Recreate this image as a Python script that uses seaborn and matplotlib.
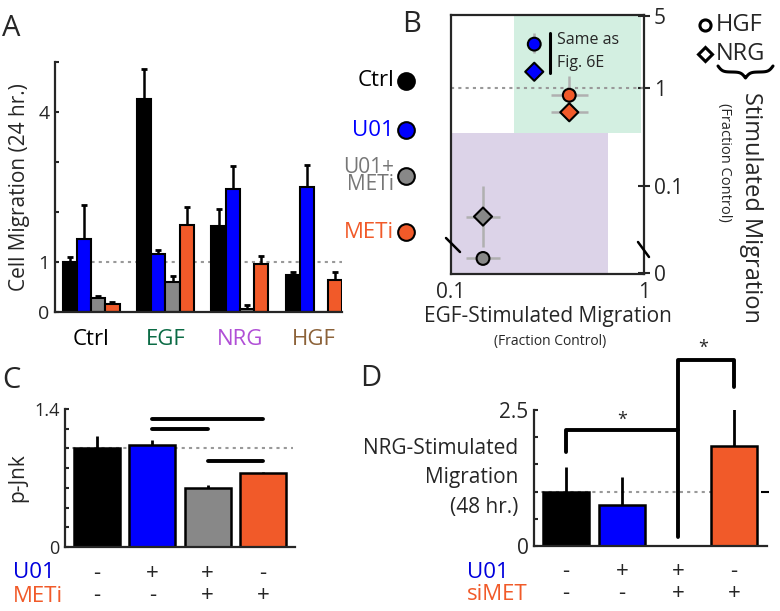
import matplotlib
matplotlib.use("Agg")
import matplotlib.pyplot as plt
import seaborn as sns
import numpy as np
import pandas as pd

# ---- panel A: cell migration (24 hr.)
groups_a = ["Ctrl", "EGF", "NRG", "HGF"]
group_colors = ["#000000", "#0b6b45", "#b04fd6", "#8c6239"]
treatments = ["Ctrl", "U01", "U01+METi", "METi"]
treat_colors = ["#000000", "#0000ff", "#888888", "#f15a29"]
mig_ctrl = [1.0, 4.27, 1.72, 0.75]
mig_u01 = [1.46, 1.16, 2.47, 2.5]
mig_u01meti = [0.29, 0.61, 0.07, 0.0]
mig_meti = [0.17, 1.74, 0.97, 0.64]
err_ctrl = [0.11, 0.6, 0.35, 0.06]
err_u01 = [0.68, 0.08, 0.45, 0.45]
err_u01meti = [0.04, 0.11, 0.08, 0.0]
err_meti = [0.03, 0.36, 0.16, 0.17]

# ---- panel B: EGF- vs HGF/NRG-stimulated migration
b_factor = ["HGF", "NRG", "HGF", "NRG", "HGF", "NRG"]
b_treat = ["METi", "METi", "U01+METi", "U01+METi", "U01", "U01"]
b_egf = [0.41, 0.41, 0.1465, 0.1465, 0.27, 0.27]
b_egf_lo = [0.33, 0.33, 0.119, 0.119, 0.27, 0.27]
b_egf_hi = [0.51, 0.51, 0.18, 0.18, 0.27, 0.27]
b_stim = [0.854, 0.58, 0.0063, 0.042, 2.69, 1.45]
b_stim_lo = [0.62, 0.53, 0.0045, 0.0128, 2.2, 1.38]
b_stim_hi = [1.31, 0.64, 0.008, 0.1, 3.42, 1.52]

# ---- panel C: p-Jnk
c_labels = ["Ctrl", "U01", "U01+METi", "METi"]
pjnk = [1.0, 1.03, 0.6, 0.75]
pjnk_err = [0.13, 0.06, 0.03, 0.01]
c_u01 = ["-", "+", "+", "-"]
c_meti = ["-", "-", "+", "+"]
c_sig = [(1, 3, 1.3), (1, 2, 1.2), (2, 3, 0.87)]

# ---- panel D: NRG-stimulated migration (48 hr.)
d_labels = ["Ctrl", "U01", "U01+siMET", "siMET"]
d_mig = [1.0, 0.75, 0.0, 1.84]
d_err = [0.46, 0.52, 0.0, 0.76]
d_u01 = ["-", "+", "+", "-"]
d_simet = ["-", "-", "+", "+"]

sns.set_style("ticks")
plt.rcParams["font.family"] = ["Open Sans", "DejaVu Sans"]
plt.rcParams["axes.linewidth"] = 1.6

W, H = 780, 611
fig = plt.figure(figsize=(7.8, 6.11), dpi=100)


def px_axes(l, r, t, b):
    return fig.add_axes([l / W, 1 - b / H, (r - l) / W, (b - t) / H])


# overlay in pixel coords for loose labels
ov = fig.add_axes([0, 0, 1, 1], zorder=10)
ov.set_xlim(0, W)
ov.set_ylim(H, 0)
ov.axis("off")


def curly_brace(ax, x0, x1, y, h, beta=0.45, **kw):
    # horizontal curly brace opening upward, tip pointing down
    mid = (x0 + x1) / 2
    xl = np.linspace(x0, mid, 60)
    yl = 1 / (1 + np.exp(-beta * (xl - x0))) + 1 / (1 + np.exp(-beta * (xl - mid)))
    yl = (yl - yl.min()) / (yl.max() - yl.min())
    xs = np.concatenate([xl, 2 * mid - xl[::-1]])
    ys = np.concatenate([yl, yl[::-1]])
    ax.plot(xs, y + h * ys, **kw)


# ================= A =================
axA = px_axes(55, 342, 62, 312)
df_a = pd.DataFrame({
    "group": groups_a * 4,
    "treatment": np.repeat(treatments, 4),
    "value": mig_ctrl + mig_u01 + mig_u01meti + mig_meti,
})
errs_a = [err_ctrl, err_u01, err_u01meti, err_meti]
axA.axhline(1, color="#999999", ls=(0, (1.5, 2)), lw=1.5, zorder=0)
sns.barplot(data=df_a, x="group", y="value", hue="treatment", hue_order=treatments,
            palette=treat_colors, saturation=1, width=0.76, edgecolor="black", linewidth=1.5,
            errorbar=None, legend=False, ax=axA, zorder=2)
for cont, errs in zip(axA.containers, errs_a):
    for p, e in zip(cont.patches, errs):
        if e > 0:
            xc = p.get_x() + p.get_width() / 2
            axA.errorbar(xc, p.get_height(), yerr=[[0], [e]], color="black",
                         lw=1.8, capsize=2, capthick=2, zorder=1)
axA.set_xlim(-0.49, 3.38)
axA.set_ylim(0, 5)
axA.set_yticks([0, 1, 2, 3, 4, 5])
axA.set_yticklabels(["0", "1", "", "", "4", ""], fontsize=14)
axA.tick_params(axis="y", direction="in", length=3, width=1.5, pad=4)
axA.tick_params(axis="x", length=0, pad=12)
axA.set_xticks(range(4))
axA.set_xticklabels(groups_a, fontsize=16)
for lab, c in zip(axA.get_xticklabels(), group_colors):
    lab.set_color(c)
axA.set_xlabel("")
axA.set_ylabel("Cell Migration (24 hr.)", fontsize=15, labelpad=6)
sns.despine(ax=axA)

# legend of treatments between A and B
leg_y = [81, 130, 176, 232]
leg_txt = ["Ctrl", "U01", "U01+\nMETi", "METi"]
leg_fs = [16, 16, 15, 16]
for y, t, c, fs in zip(leg_y, leg_txt, treat_colors, leg_fs):
    ov.text(394, y, t, color=c if c != "#888888" else "#777777", fontsize=fs,
            ha="right", va="center", linespacing=0.8)
    ov.plot(406, y, "o", ms=12, mfc=c, mec="black", mew=1.5)

# ================= B =================
axB = px_axes(451, 644, 15, 274)
c_off = 0.017
axB.set_xscale("log")
axB.set_yscale("function", functions=(lambda v: np.log10(np.clip(v + c_off, 1e-9, None)),
                                      lambda t: 10 ** t - c_off))
axB.set_xlim(0.1, 1)
axB.set_ylim(-0.0005, 5.15)
axB.axvspan(0.212, 0.96, ymin=0.545, ymax=1, color="#d3efe1", lw=0, zorder=0)
axB.axvspan(0.1, 0.65, ymin=0, ymax=0.545, color="#dcd3e8", lw=0, zorder=0)
axB.axhline(1, color="#999999", ls=(0, (1.5, 2)), lw=1.5, zorder=1)
df_b = pd.DataFrame({"egf": b_egf, "stim": b_stim, "factor": b_factor, "treat": b_treat})
x_err = [np.array(b_egf) - np.array(b_egf_lo), np.array(b_egf_hi) - np.array(b_egf)]
y_err = [np.array(b_stim) - np.array(b_stim_lo), np.array(b_stim_hi) - np.array(b_stim)]
axB.errorbar(b_egf, b_stim, xerr=x_err, yerr=y_err, fmt="none", ecolor="#b0b0b0",
             elinewidth=1.8, zorder=2)
sns.scatterplot(data=df_b, x="egf", y="stim", hue="treat", style="factor",
                palette=dict(zip(treatments, treat_colors)),
                markers={"HGF": "o", "NRG": "D"}, s=85, edgecolor="black",
                linewidth=1.5, legend=False, ax=axB, zorder=3)
axB.plot([0.326, 0.326], [1.41, 3.44], color="black", lw=2.2)
axB.text(0.355, 2.94, "Same as", fontsize=11.5, va="center")
axB.text(0.355, 1.76, "Fig. 6E", fontsize=11.5, va="center")
axB.set_xticks([0.1, 1])
axB.set_xticklabels(["0.1", "1"], fontsize=15)
axB.xaxis.set_minor_locator(matplotlib.ticker.NullLocator())
axB.tick_params(axis="x", length=0, pad=6)
axB.yaxis.tick_right()
axB.set_yticks([0, 0.1, 1, 5])
axB.set_yticklabels(["0", "0.1", "1", "5"], fontsize=15)
axB.yaxis.set_minor_locator(matplotlib.ticker.NullLocator())
axB.tick_params(axis="y", direction="inout", length=8, width=1.5, pad=3)
axB.set_xlabel("EGF-Stimulated Migration", fontsize=15, labelpad=2)
axB.set_ylabel("")
# axis break marks
ov.plot([446, 460], [238, 252], color="black", lw=1.8)
ov.plot([638, 649], [242, 257], color="black", lw=1.8)
ov.text(550, 342, "(Fraction Control)", fontsize=10, ha="center", va="center")
# marker key and right label
ov.plot(705, 25, "o", ms=8, mfc="white", mec="black", mew=2.2)
ov.text(716, 25, "HGF", fontsize=17, va="center")
ov.plot(705, 54, "D", ms=7.5, mfc="white", mec="black", mew=2.2)
ov.text(716, 54, "NRG", fontsize=17, va="center")
curly_brace(ov, 718, 773, 66, 12, color="black", lw=2.2)
ov.text(751, 207, "Stimulated Migration", fontsize=17, rotation=-90, ha="center", va="center")
ov.text(725, 162, "(Fraction Control)", fontsize=10.5, rotation=-90, ha="center", va="center")

# ================= C =================
axC = px_axes(65, 295, 409, 547)
axC.axhline(1, xmin=0, xmax=0.99, color="#999999", ls=(0, (1.5, 2)), lw=1.5, zorder=0)
sns.barplot(x=c_labels, y=pjnk, hue=c_labels, palette=treat_colors, saturation=1, width=0.83,
            edgecolor="black", linewidth=1.8, errorbar=None, legend=False, ax=axC, zorder=2)
axC.errorbar(range(4), pjnk, yerr=[[0] * 4, pjnk_err], fmt="none", ecolor="black",
             elinewidth=2, zorder=1)
for a, b, yv in c_sig:
    axC.plot([a, b], [yv, yv], color="black", lw=2.8, solid_capstyle="round")
axC.set_xlim(-0.58, 3.58)
axC.set_ylim(0, 1.4)
axC.set_yticks(np.arange(0, 1.41, 0.2))
axC.set_yticklabels(["0"] + [""] * 6 + ["1.4"], fontsize=13)
axC.tick_params(axis="y", direction="in", length=3, width=1.5, pad=4)
axC.set_xticks([])
axC.set_ylabel("p-Jnk", fontsize=15, labelpad=4)
sns.despine(ax=axC)
xt = axC.get_xaxis_transform()
for i in range(4):
    axC.text(i, -0.19, c_u01[i], transform=xt, fontsize=16, ha="center", va="center")
    axC.text(i, -0.35, c_meti[i], transform=xt, fontsize=16, ha="center", va="center")
ov.text(13, 572, "U01", color="#0000dd", fontsize=16, va="center")
ov.text(13, 596, "METi", color="#f15a29", fontsize=16, va="center")

# ================= D =================
axD = px_axes(534, 767, 410, 546)
axD.axhline(1, xmin=0, xmax=0.96, color="#999999", ls=(0, (1.5, 2)), lw=1.5, zorder=0)
sns.barplot(x=d_labels, y=d_mig, hue=d_labels, palette=treat_colors, saturation=1,
            width=0.82, edgecolor="black", linewidth=1.8, errorbar=None, legend=False,
            ax=axD, zorder=2)
axD.errorbar(range(4), d_mig, yerr=[[0] * 4, d_err], fmt="none", ecolor="black",
             elinewidth=2, zorder=1)
axD.plot([0, 0, 2], [1.73, 2.13, 2.13], color="black", lw=2.8, clip_on=False)
axD.plot([2, 2, 3, 3], [0.17, 3.42, 3.42, 2.92], color="black", lw=2.8, clip_on=False)
axD.text(1, 2.32, "*", fontsize=13, ha="center", va="center")
axD.text(2.45, 3.64, "*", fontsize=13, ha="center", va="center")
axD.plot([3.55], [1.0], marker="_", ms=6, mew=1.5, color="black", clip_on=False)
axD.set_xlim(-0.57, 3.59)
axD.set_ylim(0, 2.5)
axD.set_yticks(np.arange(0, 2.51, 0.5))
axD.set_yticklabels(["0"] + [""] * 4 + ["2.5"], fontsize=15)
axD.tick_params(axis="y", direction="in", length=3, width=1.5, pad=4)
axD.set_xticks([])
axD.set_ylabel("")
sns.despine(ax=axD)
xt = axD.get_xaxis_transform()
for i in range(4):
    axD.text(i, -0.19, d_u01[i], transform=xt, fontsize=16, ha="center", va="center")
    axD.text(i, -0.35, d_simet[i], transform=xt, fontsize=16, ha="center", va="center")
ov.text(518, 448, "NRG-Stimulated", fontsize=15, ha="right", va="center")
ov.text(518, 478, "Migration", fontsize=15, ha="right", va="center")
ov.text(518, 508, "(48 hr.)", fontsize=15, ha="right", va="center")
ov.text(467, 572, "U01", color="#0000dd", fontsize=16, va="center")
ov.text(467, 595, "siMET", color="#f15a29", fontsize=16, va="center")

# panel letters
for x, y, t in [(2, 28, "A"), (402, 24, "B"), (2, 380, "C"), (360, 379, "D")]:
    ov.text(x, y, t, fontsize=21, ha="left", va="center")

fig.savefig("out.png", dpi=100)
